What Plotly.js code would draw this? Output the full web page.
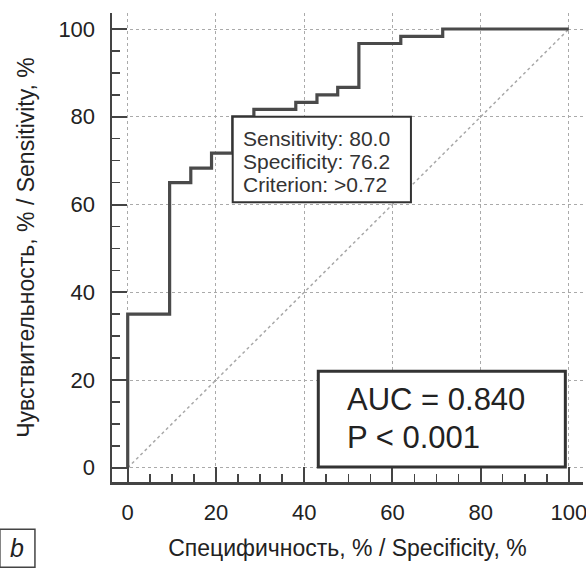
<!DOCTYPE html>
<html>
<head>
<meta charset="utf-8">
<script src="https://cdn.plot.ly/plotly-3.0.1.min.js"></script>
<style>html,body{margin:0;padding:0;background:#fff;}#chart{width:586px;height:569px;}</style>
</head>
<body>
<div id="chart"></div>
<script>
// ROC curve: x = 100 - specificity (%), y = sensitivity (%)
var rocX = [0, 0, 9.5, 14.3, 19.0, 23.8, 28.6, 38.1, 42.9, 47.6, 52.4, 61.9, 71.4, 100];
var rocY = [0, 35, 65, 68.3, 71.7, 80.0, 81.7, 83.3, 85.0, 86.7, 96.7, 98.3, 100, 100];
var diagX = [0, 100];
var diagY = [0, 100];
var tickVals = [0, 20, 40, 60, 80, 100];
var tickText = ["0", "20", "40", "60", "80", "100"];
var infoLines = ["Sensitivity: 80.0", "Specificity: 76.2", "Criterion: >0.72"];
var aucLines = ["AUC = 0.840", "P < 0.001"];
var xTitle = "Специфичность, % / Specificity, %";
var yTitle = "Чувствительность, % / Sensitivity, %";
var panelLabel = "b";

var FONT = "Liberation Sans, Arial, Helvetica, sans-serif";
var AX = "#444444";

var traces = [
  {x: diagX, y: diagY, mode: "lines", type: "scatter", hoverinfo: "skip",
   line: {color: "#a8a8a8", width: 1.5, dash: "dot"}},
  {x: rocX, y: rocY, mode: "lines", type: "scatter", hoverinfo: "skip",
   line: {color: "#4a4a4a", width: 3.2, shape: "hv"}}
];

function axisBase(range, standoff) {
  return {
    range: range, tickvals: tickVals, ticktext: tickText,
    ticks: "inside", ticklen: 15, tickwidth: 2, tickcolor: AX,
    showline: true, linecolor: AX, linewidth: 2.5,
    showgrid: true, gridcolor: "#aaaaaa", griddash: "dot", gridwidth: 1,
    zeroline: false, automargin: false, fixedrange: true,
    ticklabelstandoff: standoff, ticklabeloverflow: "allow",
    tickfont: {family: FONT, size: 22, color: "#222"},
    minor: {dtick: 5, tick0: 0, ticks: "inside", ticklen: 8, tickwidth: 1.5, tickcolor: AX, showgrid: false}
  };
}

var xa = axisBase([-3.56, 103.2], 9);
xa.title = {text: xTitle, font: {family: FONT, size: 23, color: "#222"}, standoff: 16};
var ya = axisBase([-3.24, 103.65], 10);
ya.title = {text: yTitle, font: {family: FONT, size: 23, color: "#222"}, standoff: 18};

var annotations = [];
var infoY = [75.1, 69.8, 64.5];
infoLines.forEach(function (t, i) {
  annotations.push({x: 25.6, y: infoY[i], xref: "x", yref: "y", text: t, showarrow: false,
    xanchor: "left", yanchor: "middle", font: {family: FONT, size: 21, color: "#333"}});
});
var aucY = [15.6, 7.0];
aucLines.forEach(function (t, i) {
  annotations.push({x: 49.3, y: aucY[i], xref: "x", yref: "y", text: t, showarrow: false,
    xanchor: "left", yanchor: "middle", font: {family: FONT, size: 31, color: "#222"}});
});
annotations.push({x: -0.2007, y: -0.1415, xref: "paper", yref: "paper", text: "<i>" + panelLabel + "</i>",
  showarrow: false, xanchor: "center", yanchor: "middle", font: {family: FONT, size: 25, color: "#222"}});

var shapes = [
  {type: "rect", xref: "x", yref: "y", x0: 23.8, x1: 64.2, y0: 60.5, y1: 80.0,
   line: {color: "#333", width: 2}, fillcolor: "#fff", layer: "above"},
  {type: "rect", xref: "x", yref: "y", x0: 43.2, x1: 99.2, y0: 0.2, y1: 22.0,
   line: {color: "#333", width: 3}, fillcolor: "#fff", layer: "above"},
  {type: "rect", xref: "paper", yref: "paper", x0: -0.238, x1: -0.1636, y0: -0.182, y1: -0.1009,
   line: {color: "#444", width: 1.5}, fillcolor: "rgba(0,0,0,0)", layer: "above"}
];

var layout = {
  width: 586, height: 569,
  margin: {l: 112, r: 3, t: 13, b: 87, pad: 0},
  paper_bgcolor: "#fff", plot_bgcolor: "#fff",
  showlegend: false,
  xaxis: xa, yaxis: ya,
  annotations: annotations, shapes: shapes,
  font: {family: FONT, color: "#222"}
};

Plotly.newPlot("chart", traces, layout, {staticPlot: true, displayModeBar: false});
</script>
</body>
</html>
